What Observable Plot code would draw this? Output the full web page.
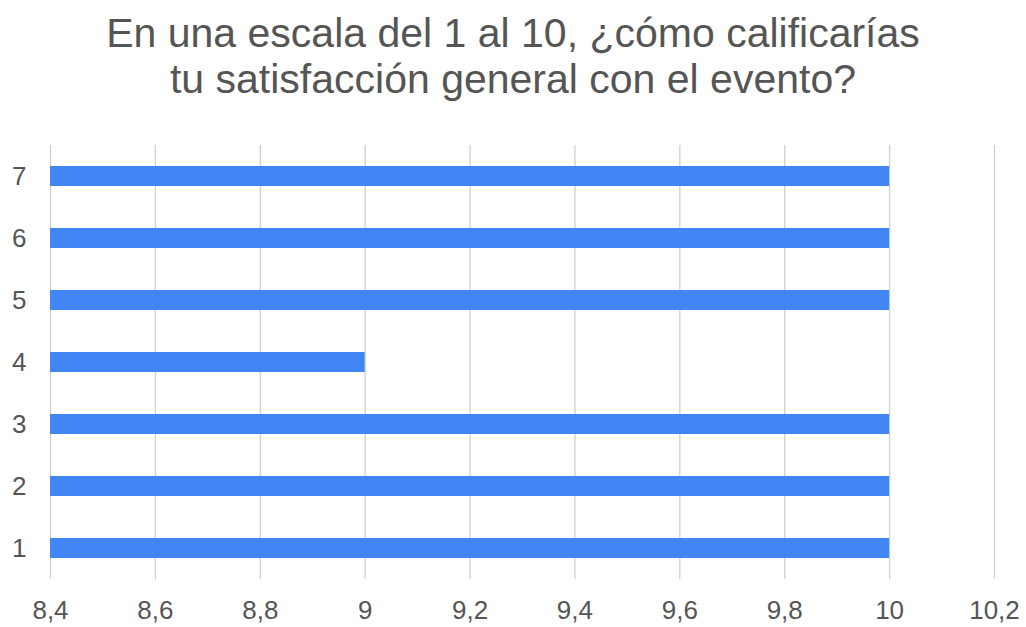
<!DOCTYPE html>
<html>
<head>
<meta charset="utf-8">
<script src="https://cdn.jsdelivr.net/npm/d3@7"></script>
<script src="https://cdn.jsdelivr.net/npm/@observablehq/plot@0.6"></script>
<style>
  html, body { margin: 0; padding: 0; background: #fff; }
  #title {
    width: 1026px; height: 125px; box-sizing: border-box; padding-top: 10px;
    text-align: center; font-family: "Liberation Sans", Arial, sans-serif;
    font-size: 41px; line-height: 46px; color: #555;
  }
  #chart svg { display: block; }
</style>
</head>
<body>
<div id="title">En una escala del 1 al 10, ¿cómo calificarías<br>tu satisfacción general con el evento?</div>
<div id="chart"></div>
<script>
const categories = ["1", "2", "3", "4", "5", "6", "7"];
const values = [10, 10, 10, 9, 10, 10, 10];
const xTicks = [8.4, 8.6, 8.8, 9, 9.2, 9.4, 9.6, 9.8, 10, 10.2];
const baseline = 8.4;

const data = categories.map((c, i) => ({category: c, value: values[i]}));
const fmt = d => String(+d.toFixed(1)).replace(".", ",");

const chart = Plot.plot({
  width: 1026,
  height: 502,
  marginTop: 20,
  marginBottom: 48,
  marginLeft: 50,
  marginRight: 32,
  style: {fontFamily: "'Liberation Sans', Arial, sans-serif", fontSize: "26px", color: "#555", background: "#fff"},
  x: {domain: [xTicks[0], xTicks[xTicks.length - 1]], ticks: xTicks, tickFormat: fmt},
  y: {domain: categories.slice().reverse(), paddingInner: 0.68, paddingOuter: 0.34},
  marks: [
    Plot.ruleX(xTicks, {stroke: "#d0d0d0", strokeWidth: 1.3, strokeOpacity: 1}),
    Plot.barX(data, {y: "category", x1: baseline, x2: "value", fill: "#4285f4"}),
    Plot.axisX({ticks: xTicks, tickFormat: fmt, tickSize: 0, tickPadding: 21, label: null, fill: "#555", fontSize: 26}),
    Plot.axisY({tickSize: 0, tickPadding: 24, label: null, fill: "#555", fontSize: 26})
  ]
});
document.getElementById("chart").appendChild(chart);
</script>
</body>
</html>
